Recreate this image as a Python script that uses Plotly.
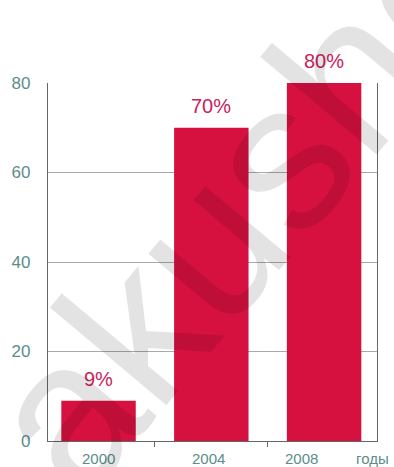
import plotly.graph_objects as go

# Share of something by year, in percent
years = ["2000", "2004", "2008"]
shares = [9, 70, 80]
y_ticks = [0, 20, 40, 60, 80]

BAR_RED = "#d7113f"
LABEL_RED = "#c9235a"
TICK_TEAL = "#5b8d89"
AXIS_GREY = "#666666"
FONT = "Liberation Sans, Arial, sans-serif"

fig = go.Figure()
fig.add_trace(go.Bar(
    x=years,
    y=shares,
    marker=dict(color=BAR_RED, line=dict(width=0)),
    width=0.66,
    hoverinfo="skip",
))

# value labels above each bar (x given as category index)
for i, v in enumerate(shares):
    fig.add_annotation(
        x=i, y=v, text=f"{v}%", showarrow=False,
        yanchor="bottom", yshift=9,
        font=dict(family=FONT, size=20, color=LABEL_RED),
    )

# category labels under the axis; the last one sits left to leave room for the unit
shifts = [0, -3, -23]
for i, (yr, dx) in enumerate(zip(years, shifts)):
    fig.add_annotation(
        x=i, y=0, text=yr, showarrow=False,
        yanchor="top", yshift=-7, xshift=dx,
        font=dict(family=FONT, size=15, color=TICK_TEAL),
    )
fig.add_annotation(
    xref="paper", yref="y", x=0.93, y=0, text="годы", showarrow=False,
    xanchor="left", yanchor="top", yshift=-7,
    font=dict(family=FONT, size=15, color=TICK_TEAL),
)

# faint diagonal watermark
fig.add_annotation(
    xref="paper", yref="paper", x=0.665, y=0.75, text="akusher",
    xanchor="center", yanchor="middle",
    showarrow=False, textangle=-50,
    font=dict(family=FONT, size=210, color="rgba(0,0,0,0.11)"),
)

fig.update_layout(
    width=394, height=467,
    margin=dict(l=46, r=17, t=83, b=26),
    paper_bgcolor="white", plot_bgcolor="white",
    showlegend=False,
    xaxis=dict(
        type="category", range=[-0.448, 2.469],
        tickson="boundaries", ticks="outside",
        ticklen=5, tickcolor=AXIS_GREY, showticklabels=False,
        showgrid=False, showline=True, linecolor=AXIS_GREY, linewidth=1.2,
        zeroline=False, fixedrange=True,
    ),
    yaxis=dict(
        range=[0, 80], tickvals=y_ticks, ticks="", ticklabelstandoff=13,
        tickfont=dict(family=FONT, size=17, color=TICK_TEAL),
        showgrid=True, gridcolor="#a9a9a9", gridwidth=1,
        showline=True, mirror=True, linecolor=AXIS_GREY, linewidth=1.2,
        zeroline=False, fixedrange=True,
    ),
)

fig.write_html("out.html")
